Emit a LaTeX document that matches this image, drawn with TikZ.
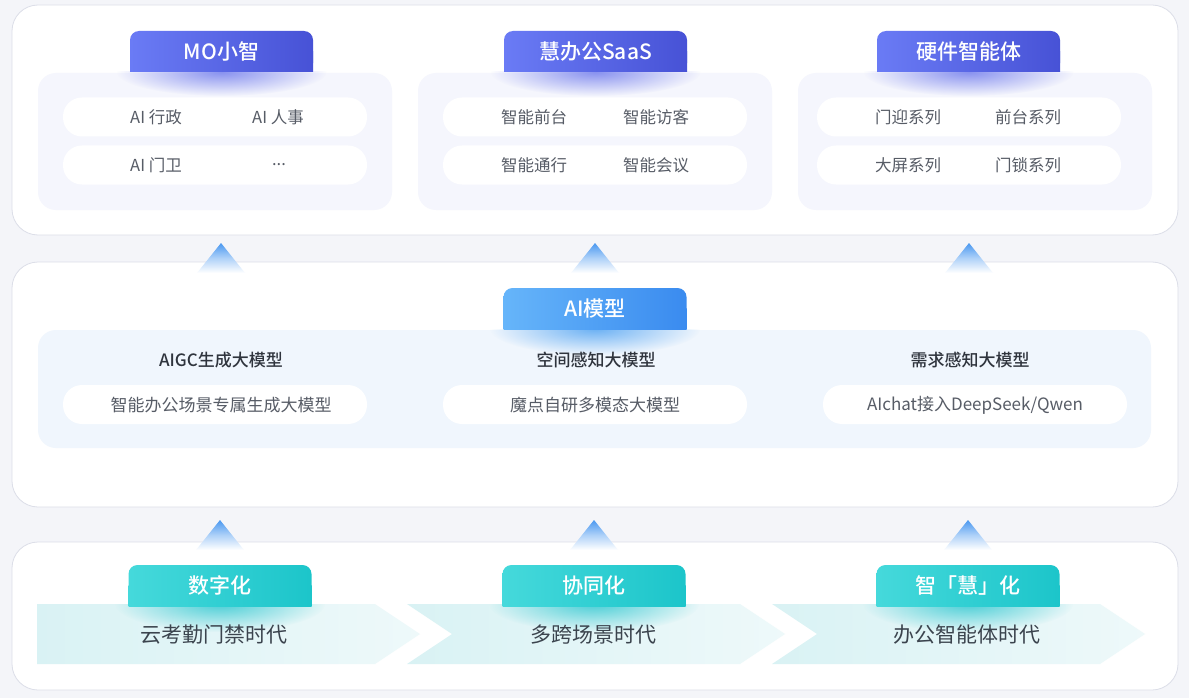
\documentclass[tikz,border=0pt]{standalone}
\usepackage{fontspec}
\setmainfont{Noto Sans CJK SC}[BoldFont={* Medium}]
\usetikzlibrary{fadings}
\definecolor{bg}{HTML}{F4F5F9}
\definecolor{panelborder}{HTML}{DCDEE8}
\definecolor{innertop}{HTML}{F5F6FD}
\definecolor{innermid}{HTML}{F0F6FD}
\definecolor{pilltext}{HTML}{575C66}
\definecolor{headtext}{HTML}{2F343D}
\definecolor{bandtext}{HTML}{3B444E}
\definecolor{tabTL}{HTML}{6A7BF5}
\definecolor{tabTR}{HTML}{4752D6}
\definecolor{tabML}{HTML}{66B5FA}
\definecolor{tabMR}{HTML}{3A8BEF}
\definecolor{tabBL}{HTML}{45D9DB}
\definecolor{tabBR}{HTML}{1CC5CA}
\definecolor{glowT}{HTML}{7C86EE}
\definecolor{glowM}{HTML}{5EAAF3}
\definecolor{glowB}{HTML}{3CCBD3}
\definecolor{triblue}{HTML}{4A98F0}
\definecolor{bandL}{HTML}{D9F2F4}
\definecolor{bandR}{HTML}{EEF9FA}
\tikzfading[name=softglow, inner color=transparent!0, outer color=transparent!100]
\newcommand\mytab[6]{%
  \shade[left color=#5, right color=#6] ({#2-91.5},{#3}) rectangle ({#2+91.5},{#3+20.5});
  \node[tabnode, left color=#5, right color=#6] (#1) at (#2,#3) {#4};
}
\newcommand\myglow[5]{%
  \begin{scope}
  \clip ({#1-160},#2) rectangle ({#1+160},{#2+60});
  \fill[#4, path fading=softglow, fill opacity=0.9] (#1,#2) ellipse (#3 and #5);
  \end{scope}
}
\newcommand\mytri[2]{%
  \shade[top color=triblue, bottom color=white, middle color=triblue!45] (#1,#2) -- ({#1-24},{#2+30}) -- ({#1+24},{#2+30}) -- cycle;
}
\begin{document}
\begin{tikzpicture}[x=1pt,y=-1pt,
  panel/.style={draw=panelborder, line width=0.8pt, fill=white, rounded corners=26pt, outer sep=0pt, inner sep=0pt},
  inner/.style={fill=#1, rounded corners=18pt, minimum width=354pt, minimum height=137pt, outer sep=0pt, inner sep=0pt},
  pill/.style={fill=white, rounded corners=19pt, minimum width=304pt, minimum height=39pt, outer sep=0pt, inner sep=0pt},
  pilltxt/.style={text=pilltext, font=\fontsize{16.5}{18}\selectfont, inner sep=0pt},
  headtxt/.style={text=headtext, font=\bfseries\fontsize{17}{19}\selectfont, inner sep=0pt},
  bandtxt/.style={text=bandtext, font=\fontsize{21}{23}\selectfont, inner sep=0pt},
  tabnode/.style={rounded corners=9pt, minimum width=183pt, minimum height=41pt, inner sep=0pt, outer sep=0pt, text=white, font=\bfseries\fontsize{21}{23}\selectfont},
  band/.style={left color=bandL, right color=bandR}
]
\useasboundingbox (0,0) rectangle (1189,698);
\fill[bg] (0,0) rectangle (1189,698);

% ---------- panels
\node[panel, minimum width=1166pt, minimum height=230pt] (toppanel) at (595,120) {};
\node[panel, minimum width=1166pt, minimum height=245pt] (midpanel) at (595,384.5) {};
\node[panel, minimum width=1166pt, minimum height=148pt] (botpanel) at (595,616) {};

% ---------- top row
\node[inner=innertop] (in1) at (215,141.5) {};
\node[inner=innertop] (in2) at (595,141.5) {};
\node[inner=innertop] (in3) at (975,141.5) {};
\myglow{221.5}{72}{105}{glowT}{24}
\myglow{595.5}{72}{105}{glowT}{24}
\myglow{968.5}{72}{105}{glowT}{24}
\node[pill] (p1a) at (215,117) {};
\node[pill] (p1b) at (215,165) {};
\node[pill] (p2a) at (595,117) {};
\node[pill] (p2b) at (595,165) {};
\node[pill] (p3a) at (969,117) {};
\node[pill] (p3b) at (969,165) {};
\mytab{t1}{221.5}{51.5}{MO小智}{tabTL}{tabTR}
\mytab{t2}{595.5}{51.5}{慧办公SaaS}{tabTL}{tabTR}
\mytab{t3}{968.5}{51.5}{硬件智能体}{tabTL}{tabTR}
\node[pilltxt] (s11) at (156,117) {AI 行政};
\node[pilltxt] (s12) at (278,117) {AI 人事};
\node[pilltxt] (s13) at (156,165) {AI 门卫};
\node[pilltxt] (s14) at (279,165) {...};
\node[pilltxt] (s21) at (534,117) {智能前台};
\node[pilltxt] (s22) at (656,117) {智能访客};
\node[pilltxt] (s23) at (534,165) {智能通行};
\node[pilltxt] (s24) at (656,165) {智能会议};
\node[pilltxt] (s31) at (908,117) {门迎系列};
\node[pilltxt] (s32) at (1028,117) {前台系列};
\node[pilltxt] (s33) at (908,165) {大屏系列};
\node[pilltxt] (s34) at (1028,165) {门锁系列};

% ---------- middle row
\node[fill=innermid, rounded corners=18pt, minimum width=1113pt, minimum height=118pt, inner sep=0pt] (inmid) at (594.5,389) {};
\myglow{595}{329}{105}{glowM}{26}
\node[pill] (m1) at (215,404.5) {};
\node[pill] (m2) at (595,404.5) {};
\node[pill] (m3) at (975,404.5) {};
\mytab{tm}{595}{308.5}{AI模型}{tabML}{tabMR}
\node[headtxt] (h1) at (221,360) {AIGC生成大模型};
\node[headtxt] (h2) at (596,360) {空间感知大模型};
\node[headtxt] (h3) at (970,360) {需求感知大模型};
\node[pilltxt, font=\fontsize{17}{19}\selectfont] (mt1) at (221,405) {智能办公场景专属生成大模型};
\node[pilltxt, font=\fontsize{17}{19}\selectfont] (mt2) at (595,405) {魔点自研多模态大模型};
\node[pilltxt, font=\fontsize{17}{19}\selectfont] (mt3) at (975,405) {AIchat接入DeepSeek/Qwen};

% ---------- bottom row (chevron bands)
\shade[band] (37,604) -- (375,604) -- (420,634) -- (375,664) -- (37,664) -- cycle;
\shade[band] (407,604) -- (740,604) -- (785,634) -- (740,664) -- (407,664) -- (452,634) -- cycle;
\shade[band] (772,604) -- (1100,604) -- (1145,634) -- (1100,664) -- (772,664) -- (817,634) -- cycle;
\myglow{220}{604}{105}{glowB}{28}
\myglow{594}{604}{105}{glowB}{28}
\myglow{968}{604}{105}{glowB}{28}
\mytab{b1}{220}{585.5}{数字化}{tabBL}{tabBR}
\mytab{b2}{594}{585.5}{协同化}{tabBL}{tabBR}
\mytab{b3}{968}{585.5}{智「慧」化}{tabBL}{tabBR}
\node[bandtxt] (e1) at (214,635) {云考勤门禁时代};
\node[bandtxt] (e2) at (593,635) {多跨场景时代};
\node[bandtxt] (e3) at (967,635) {办公智能体时代};

% ---------- arrows (triangles)
\mytri{221}{243}
\mytri{595}{243}
\mytri{969}{243}
\mytri{220}{520}
\mytri{594}{520}
\mytri{968}{520}
\end{tikzpicture}
\end{document}
